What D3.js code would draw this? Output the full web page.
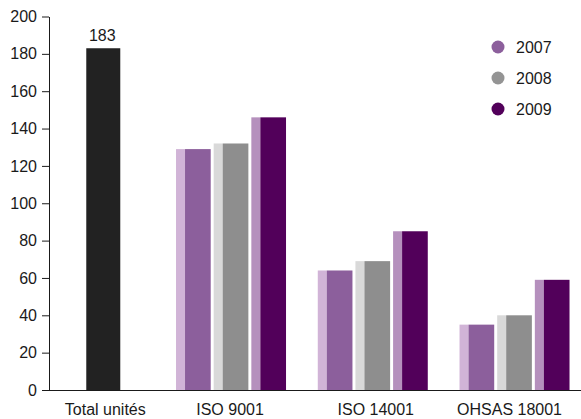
<!DOCTYPE html>
<html>
<head>
<meta charset="utf-8">
<script src="https://cdn.jsdelivr.net/npm/d3@7"></script>
<style>
  html, body { margin: 0; padding: 0; background: #fff; }
  svg { display: block; }
  text { font-family: "Liberation Sans", Arial, sans-serif; font-size: 16px; fill: #1a1a1a; }
</style>
</head>
<body>
<svg id="chart" width="581" height="419"></svg>
<script>
// ---- data ----
const categories = ["Total unités", "ISO 9001", "ISO 14001", "OHSAS 18001"];
const years = ["2007", "2008", "2009"];
const totalValue = 183;
const values2007 = [129, 64, 35];
const values2008 = [132, 69, 40];
const values2009 = [146, 85, 59];
const yTicks = [0, 20, 40, 60, 80, 100, 120, 140, 160, 180, 200];

// ---- styles ----
const mainColors = { "2007": "#8c5f9c", "2008": "#8e8e8e", "2009": "#52005a" };
const lightColors = { "2007": "#d1b4d7", "2008": "#d9d9d9", "2009": "#b590bd" };
const legendColors = { "2007": "#8c5f9c", "2008": "#949494", "2009": "#52005a" };
const totalColor = "#222222";

const svg = d3.select("#chart");
const axisX = 49, baseY = 390, topY = 16.5;

const y = d3.scaleLinear().domain([0, 200]).range([baseY, topY]);
const x = d3.scaleBand().domain(categories).range([18.4, 585.4]);
const sub = d3.scaleBand().domain(years).range([-55, 55]).paddingInner(0.079);
const stripW = 9;

const certCats = categories.slice(1);
const rows = certCats.map((c, i) => ({
  cat: c,
  vals: { "2007": values2007[i], "2008": values2008[i], "2009": values2009[i] }
}));

// total bar
const totalCenter = x(categories[0]) + x.bandwidth() / 2 + 14;
const totalW = 34;
svg.append("rect")
  .attr("x", totalCenter - totalW / 2)
  .attr("y", y(totalValue))
  .attr("width", totalW)
  .attr("height", y(0) - y(totalValue))
  .attr("fill", totalColor);
svg.append("text")
  .attr("x", totalCenter - 1)
  .attr("y", y(totalValue) - 7)
  .attr("text-anchor", "middle")
  .text(String(totalValue));

// grouped bars
rows.forEach(r => {
  const cx = x(r.cat) + x.bandwidth() / 2;
  years.forEach(yr => {
    const v = r.vals[yr];
    const bx = cx + sub(yr);
    svg.append("rect")
      .attr("x", bx).attr("y", y(v))
      .attr("width", stripW).attr("height", y(0) - y(v))
      .attr("fill", lightColors[yr]);
    svg.append("rect")
      .attr("x", bx + stripW).attr("y", y(v))
      .attr("width", sub.bandwidth() - stripW).attr("height", y(0) - y(v))
      .attr("fill", mainColors[yr]);
  });
});

// y axis
const yAxis = d3.axisLeft(y).tickValues(yTicks).tickSize(7).tickPadding(5).tickSizeOuter(0);
const gy = svg.append("g").attr("transform", `translate(${axisX},0)`).call(yAxis);
gy.select(".domain").attr("stroke", "#1a1a1a");
gy.selectAll(".tick line").attr("stroke", "#1a1a1a");
gy.selectAll(".tick text").attr("fill", "#1a1a1a");

// x axis line
svg.append("line")
  .attr("x1", axisX).attr("x2", 581)
  .attr("y1", baseY + 0.5).attr("y2", baseY + 0.5)
  .attr("stroke", "#1a1a1a");

// x labels
const labelOffsets = [16, -1, 3, -5];
categories.forEach((c, i) => {
  svg.append("text")
    .attr("x", x(c) + x.bandwidth() / 2 + labelOffsets[i])
    .attr("y", 415)
    .attr("text-anchor", "middle")
    .text(c);
});

// legend
years.forEach((yr, i) => {
  const ly = 47 + i * 31;
  svg.append("circle").attr("cx", 498).attr("cy", ly).attr("r", 6.5).attr("fill", legendColors[yr]);
  svg.append("text").attr("x", 516).attr("y", ly + 5.5).text(yr);
});
</script>
</body>
</html>
